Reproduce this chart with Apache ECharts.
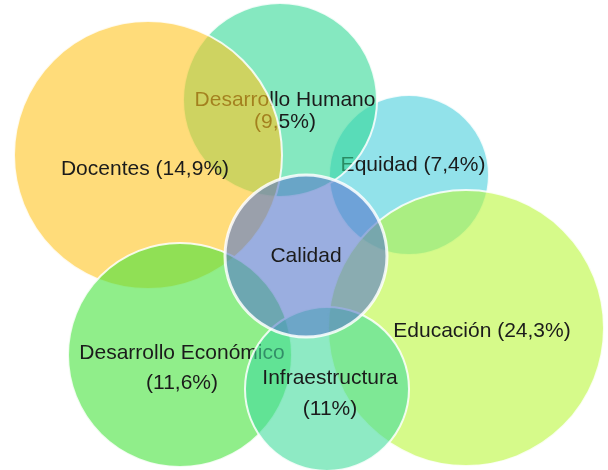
<!DOCTYPE html>
<html lang="es" style="height: 100%">
<head>
    <meta charset="UTF-8">
    <title>Calidad</title>
    <script src="https://cdn.jsdelivr.net/npm/echarts@6/dist/echarts.min.js"></script>
    <style>body{margin:0;background:#fff}</style>
</head>
<body style="height: 100%">
<div id="main" style="width:608px;height:470px"></div>
<script>
    // categorías y porcentajes
    var nombres = ['Equidad', 'Desarrollo Humano', 'Docentes', 'Desarrollo Económico', 'Educación', 'Infraestructura', 'Calidad'];
    var porcentajes = [7.4, 9.5, 14.9, 11.6, 24.3, 11, null];
    // geometría del diagrama (centro x, centro y, radio) en píxeles del lienzo
    var cx = [409, 280, 148, 180, 466, 327, 306];
    var cy = [175, 100, 155, 355, 328, 389, 256];
    var radio = [80, 97, 134, 112, 138, 82, 81];

    // colores con transparencia (rgba) para que el texto no se desvanezca
    var colores = [
        'rgba(73,207,220,0.6)', 'rgba(52,217,150,0.6)', 'rgba(255,197,33,0.6)',
        'rgba(70,227,60,0.6)', 'rgba(187,247,60,0.6)', 'rgba(67,220,157,0.6)',
        'rgba(87,120,203,0.6)'
    ];
    var desplaz = [[4, -10], [5, 11], [-3, 14], [2, 13], [16, 3], [3, 5], [0, 0]];
    var altoLinea = [22, 22, 22, 30, 22, 31, 22];
    var dosLineas = [false, true, false, true, false, true, false];

    function etiqueta(i) {
        if (porcentajes[i] == null) return nombres[i];
        var p = '(' + String(porcentajes[i]).replace('.', ',') + '%)';
        return nombres[i] + (dosLineas[i] ? '\n' : ' ') + p;
    }

    var series = nombres.map(function (n, i) {
        return {
            name: n,
            type: 'scatter',
            z: i + 2,
            symbol: 'circle',
            symbolSize: radio[i] * 2,
            silent: true,
            itemStyle: {
                color: colores[i],
                opacity: 1,
                borderColor: 'rgba(255,255,255,0.85)',
                borderWidth: i == 6 ? 3 : 2
            },
            label: {
                show: true,
                position: 'inside',
                offset: desplaz[i],
                formatter: function () { return etiqueta(i); },
                fontFamily: 'Liberation Sans',
                fontSize: 21,
                lineHeight: altoLinea[i],
                color: '#1b1b1b',
                align: 'center'
            },
            data: [[cx[i], cy[i]]]
        };
    });

    var myoption = {
        animation: false,
        grid: {left: 0, right: 0, top: 0, bottom: 0},
        xAxis: {type: 'value', min: 0, max: 608, show: false},
        yAxis: {type: 'value', min: 0, max: 470, inverse: true, show: false},
        series: series
    };
    var myChart = echarts.init(document.getElementById('main'));
    myChart.setOption(myoption);
</script>
</body>
</html>
